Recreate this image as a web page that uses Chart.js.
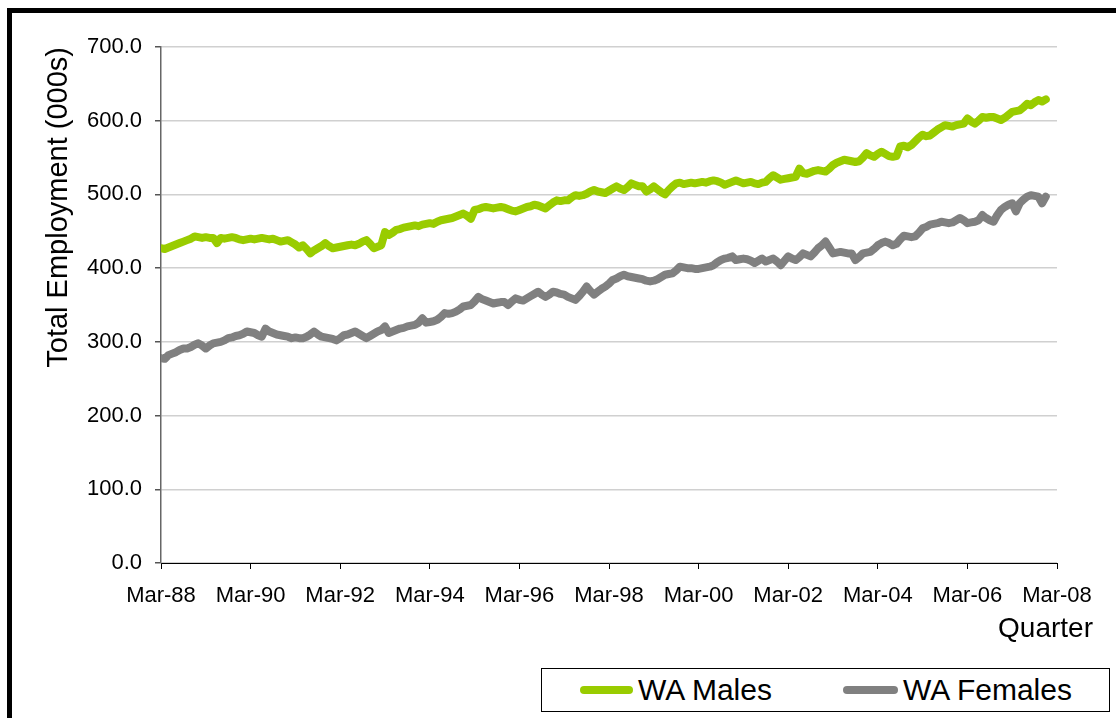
<!DOCTYPE html>
<html>
<head>
<meta charset="utf-8">
<script src="https://cdn.jsdelivr.net/npm/chart.js@4.4.1/dist/chart.umd.min.js"></script>
<style>
  html, body { margin: 0; padding: 0; background: #fff; }
  #wrap { position: relative; width: 1116px; height: 718px; overflow: hidden; background: #fff; font-family: "Liberation Sans", Arial, sans-serif; }
  #frame { position: absolute; left: 7px; top: 8px; width: 1200px; height: 800px; border: 5px solid #000; box-sizing: border-box; pointer-events: none; }
  canvas { position: absolute; left: 0; top: 0; }
  #xtitle { position: absolute; right: 23px; top: 612px; font-size: 28px; line-height: 32px; color: #000; }
  #legend { position: absolute; left: 541px; top: 668px; width: 569px; height: 44px; border: 1.5px solid #000; box-sizing: border-box; background: #fff; }
  .item { position: absolute; top: 4px; height: 34px; display: flex; align-items: center; font-size: 30px; color: #000; white-space: nowrap; }
  .swatch { display: inline-block; height: 8px; border-radius: 4px; margin-right: 5px; }
</style>
</head>
<body>
<div id="wrap">
  <canvas id="c" width="1116" height="718"></canvas>
  <div id="xtitle">Quarter</div>
  <div id="legend">
    <div class="item" style="left:38px"><span class="swatch" style="width:53px;background:#99CC00"></span>WA Males</div>
    <div class="item" style="left:301px"><span class="swatch" style="width:55px;background:#808080"></span>WA Females</div>
  </div>
  <div id="frame"></div>
</div>
<script>
// Tick labels on the x axis (one every 24 months, starting Mar-88)
const tickLabels = ['Mar-88','Mar-90','Mar-92','Mar-94','Mar-96','Mar-98','Mar-00','Mar-02','Mar-04','Mar-06','Mar-08'];
const yTicks = [0, 100, 200, 300, 400, 500, 600, 700];

// Monthly values, Mar-88 .. Dec-07 (000s)
const males = [
  427, 426, 428, 430, 432, 434, 436, 438, 440, 443, 442, 441,
  442, 441, 441, 434, 441, 440, 441, 442, 441, 439, 438, 439,
  440, 439, 440, 441, 440, 439, 440, 438, 436, 437, 438, 435,
  432, 428, 431, 426, 420, 424, 427, 430, 434, 430, 427, 428,
  429, 430, 431, 432, 431, 433, 436, 438, 433, 427, 429, 431,
  449, 445, 448, 452, 453, 455, 456, 457, 458, 457, 459, 460,
  461, 460, 463, 465, 466, 467, 468, 470, 472, 474, 471, 467,
  479, 480, 482, 483, 482, 481, 482, 483, 482, 480, 478, 477,
  479, 481, 483, 484, 486, 485, 483, 481, 485, 489, 492, 491,
  492, 492, 496, 499, 498, 499, 501, 504, 506, 504, 503, 502,
  505, 508, 511, 508, 506, 510, 515, 513, 511, 511, 504, 507,
  511, 507, 503, 500, 506, 511, 515, 516, 514, 515, 516, 515,
  516, 517, 516, 518, 519, 518, 516, 513, 515, 517, 519, 517,
  515, 516, 517, 515, 514, 516, 517, 522, 526, 523, 520, 521,
  522, 523, 524, 535, 529, 528, 530, 532, 533, 532, 531, 535,
  540, 543, 545, 547, 546, 545, 544, 545, 550, 556, 553, 551,
  555, 558, 555, 552, 551, 552, 565, 566, 564, 567, 572, 577,
  581, 579, 580, 584, 588, 591, 594, 593, 592, 594, 595, 596,
  603, 599, 596, 600, 605, 604, 605, 605, 603, 601, 604, 608,
  612, 613, 614, 618, 623, 621, 625, 628, 626, 629
];
const females = [
  278, 277, 282, 284, 286, 289, 291, 291, 293, 296, 298, 295,
  291, 295, 298, 299, 300, 302, 305, 306, 308, 309, 311, 314,
  313, 312, 309, 307, 318, 314, 312, 310, 309, 308, 307, 305,
  306, 305, 305, 307, 310, 314, 310, 307, 306, 305, 304, 302,
  305, 309, 310, 312, 314, 311, 308, 305, 308, 311, 314, 316,
  321, 312, 314, 316, 318, 319, 321, 322, 323, 326, 332, 326,
  327, 328, 330, 334, 339, 338, 339, 341, 344, 348, 349, 350,
  355, 361, 358, 356, 354, 352, 353, 354, 354, 350, 355, 359,
  357, 356, 359, 362, 365, 368, 364, 361, 364, 368, 367, 365,
  364, 361, 359, 357, 362, 368, 375, 369, 364, 368, 372, 375,
  379, 384, 386, 389, 391, 389, 388, 387, 386, 385, 383, 382,
  383, 385, 388, 391, 392, 393, 397, 402, 401, 400, 400, 399,
  399, 400, 401, 402, 404, 408, 411, 413, 414, 416, 411, 412,
  413, 412, 410, 407, 410, 413, 409, 411, 413, 409, 404, 410,
  416, 413, 411, 415, 420, 418, 416, 421, 427, 431, 436, 428,
  420, 421, 422, 421, 420, 420, 411, 415, 420, 421, 422, 426,
  431, 434, 436, 434, 431, 433, 439, 444, 443, 442, 443, 448,
  454, 456, 459, 460, 461, 463, 462, 461, 462, 465, 468, 465,
  461, 462, 463, 465, 472, 468, 465, 463, 472, 479, 483, 486,
  488, 477, 488, 493, 497, 499, 498, 497, 488, 497
];

const FONT = '"Liberation Sans", Arial, sans-serif';
const toXY = arr => arr.map((v, i) => ({ x: i, y: v }));

new Chart(document.getElementById('c'), {
  type: 'line',
  data: {
    datasets: [
      { label: 'WA Males', data: toXY(males), borderColor: '#99CC00', backgroundColor: '#99CC00',
        borderWidth: 8, pointRadius: 0, tension: 0, borderJoinStyle: 'round', borderCapStyle: 'round' },
      { label: 'WA Females', data: toXY(females), borderColor: '#808080', backgroundColor: '#808080',
        borderWidth: 8, pointRadius: 0, tension: 0, borderJoinStyle: 'round', borderCapStyle: 'round' }
    ]
  },
  options: {
    responsive: false,
    animation: false,
    events: [],
    layout: { padding: { left: 0, top: 47, right: 59, bottom: 95 } },
    plugins: { legend: { display: false }, tooltip: { enabled: false } },
    scales: {
      x: {
        type: 'linear', min: 0, max: 240,
        afterFit: s => { s.height = 60; },
        afterBuildTicks: s => { s.ticks = tickLabels.map((t, i) => ({ value: i * 24 })); },
        ticks: { autoSkip: false, maxRotation: 0, padding: 14, color: '#000',
                 font: { family: FONT, size: 22 },
                 callback: v => tickLabels[Math.round(v / 24)] },
        grid: { drawOnChartArea: false, tickLength: 6, color: '#000', lineWidth: 1 },
        border: { color: '#000', width: 1 }
      },
      y: {
        min: 0, max: 700,
        afterFit: s => { s.width = 161; },
        afterBuildTicks: s => { s.ticks = yTicks.map(v => ({ value: v })); },
        ticks: { padding: 13, color: '#000', font: { family: FONT, size: 22 },
                 callback: v => v.toFixed(1) },
        grid: { color: '#d0d0d0', lineWidth: 1.5, tickLength: 6, tickColor: '#555' },
        border: { color: '#666', width: 1.5 },
        title: { display: true, text: 'Total Employment (000s)', align: 'end', color: '#000',
                 font: { family: FONT, size: 29 }, padding: { top: 42, bottom: 0 } }
      }
    }
  }
});
</script>
</body>
</html>
